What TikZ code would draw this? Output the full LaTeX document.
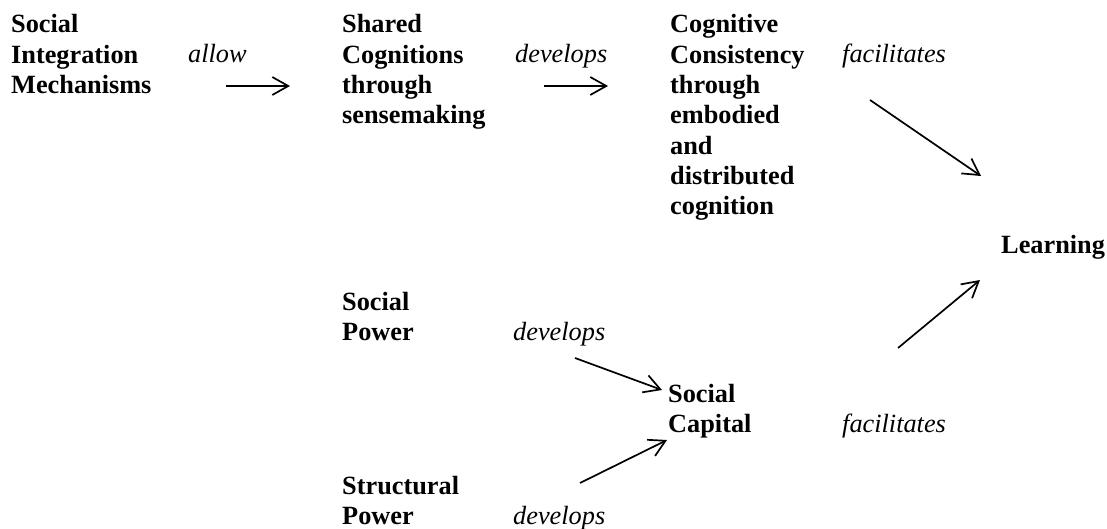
\documentclass[tikz,border=0pt]{standalone}
\usepackage{fontspec}
\setmainfont{Liberation Serif}
\usetikzlibrary{arrows.meta}
\tikzset{
  concept/.style={anchor=base west, inner sep=0pt, font=\fontsize{26.3}{30.3}\selectfont\bfseries},
  verb/.style={anchor=base west, inner sep=0pt, font=\fontsize{26.3}{30.3}\selectfont\itshape},
  link/.style={line width=1.7pt, -{Straight Barb[length=16pt,width=18pt,line width=1.7pt]}}
}
\newcommand{\lines}[1]{\begin{tabular}[t]{@{}l@{}}#1\end{tabular}}
\begin{document}
\begin{tikzpicture}[x=1pt,y=-1pt]
\useasboundingbox (0,0) rectangle (1107,529);
\node[concept] (sim) at (11,33) {\lines{Social\\Integration\\Mechanisms}};
\node[verb] (allow) at (188,63) {allow};
\node[concept] (shared) at (342,33) {\lines{Shared\\Cognitions\\through\\sensemaking}};
\node[verb] (dev1) at (515,63) {develops};
\node[concept] (cog) at (670,33) {\lines{Cognitive\\Consistency\\through\\embodied\\and\\distributed\\cognition}};
\node[verb] (fac1) at (842,63) {facilitates};
\node[concept] (learn) at (1001,253) {Learning};
\node[concept] (sp) at (342,310) {\lines{Social\\Power}};
\node[verb] (dev2) at (513,340) {develops};
\node[concept] (sc) at (668,402) {\lines{Social\\Capital}};
\node[verb] (fac2) at (842,432) {facilitates};
\node[concept] (stp) at (342,494) {\lines{Structural\\Power}};
\node[verb] (dev3) at (513,524) {develops};

\coordinate (a1s) at (226,86); \coordinate (a1e) at (290,86);
\coordinate (a2s) at (544,86); \coordinate (a2e) at (608,86);
\coordinate (a3s) at (870,100); \coordinate (a3e) at (981,176);
\coordinate (a4s) at (898,348); \coordinate (a4e) at (980,280);
\coordinate (a5s) at (575,358); \coordinate (a5e) at (662,390);
\coordinate (a6s) at (580,483); \coordinate (a6e) at (667,440);

\draw[link] (a1s) -- (a1e);
\draw[link] (a2s) -- (a2e);
\draw[link] (a3s) -- (a3e);
\draw[link] (a4s) -- (a4e);
\draw[link] (a5s) -- (a5e);
\draw[link] (a6s) -- (a6e);
\end{tikzpicture}
\end{document}
